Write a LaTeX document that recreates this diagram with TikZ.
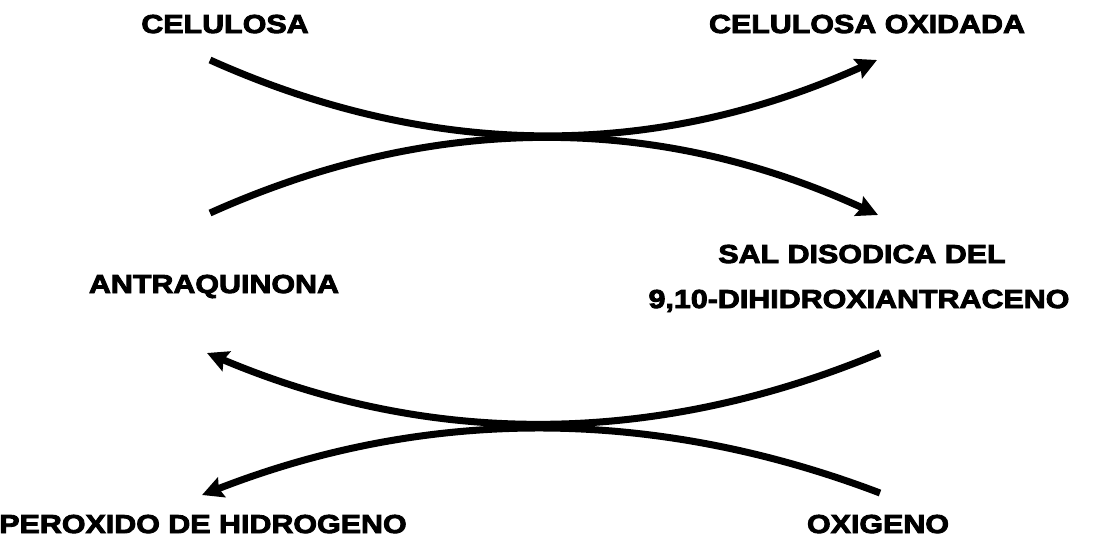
\documentclass[tikz,border=0pt]{standalone}
\usepackage{fontspec}
\newfontfamily\labelfont{Liberation Sans Bold}[FakeStretch=1.17,FakeBold=3.5]
\usetikzlibrary{arrows.meta}
\begin{document}
\begin{tikzpicture}[x=1pt,y=-1pt,
  chem/.style={font=\labelfont\fontsize{26}{30}\selectfont, inner sep=0pt, anchor=base},
  flow/.style={line width=7pt, -{Stealth[length=21pt,width=21pt,inset=3pt]}}]
  \useasboundingbox (0,0) rectangle (1094,541);

  % labels
  \node[chem] (cel)  at (225,33)  {CELULOSA};
  \node[chem] (celox) at (867,33) {CELULOSA OXIDADA};
  \node[chem] (aq)   at (214,293) {ANTRAQUINONA};
  \node[chem] (sal)  at (862,263) {SAL DISODICA DEL};
  \node[chem] (dhx)  at (859,308) {9,10-DIHIDROXIANTRACENO};
  \node[chem] (hp)   at (203,533) {PEROXIDO DE HIDROGENO};
  \node[chem] (ox)   at (878,533) {OXIGENO};

  % curve end points
  \coordinate (celEnd)   at (210,60);
  \coordinate (celoxEnd) at (877,60);
  \coordinate (aqTop)    at (210,213);
  \coordinate (salEnd)   at (878,215);
  \coordinate (dhxEnd)   at (880,353);
  \coordinate (aqBot)    at (207,353);
  \coordinate (oxEnd)    at (880,493);
  \coordinate (hpEnd)    at (202,495);

  % upper crossing: cellulose oxidised, anthraquinone reduced
  \draw[flow] (celEnd) .. controls (433,160) and (655,160) .. (celoxEnd);
  \draw[flow] (aqTop) .. controls (433,113) and (656,113) .. (salEnd);

  % lower crossing: hydroquinone salt reoxidised by oxygen
  \draw[flow] (dhxEnd) .. controls (654,447) and (430,447) .. (aqBot);
  \draw[flow] (oxEnd) .. controls (654,407) and (428,407) .. (hpEnd);
\end{tikzpicture}
\end{document}
